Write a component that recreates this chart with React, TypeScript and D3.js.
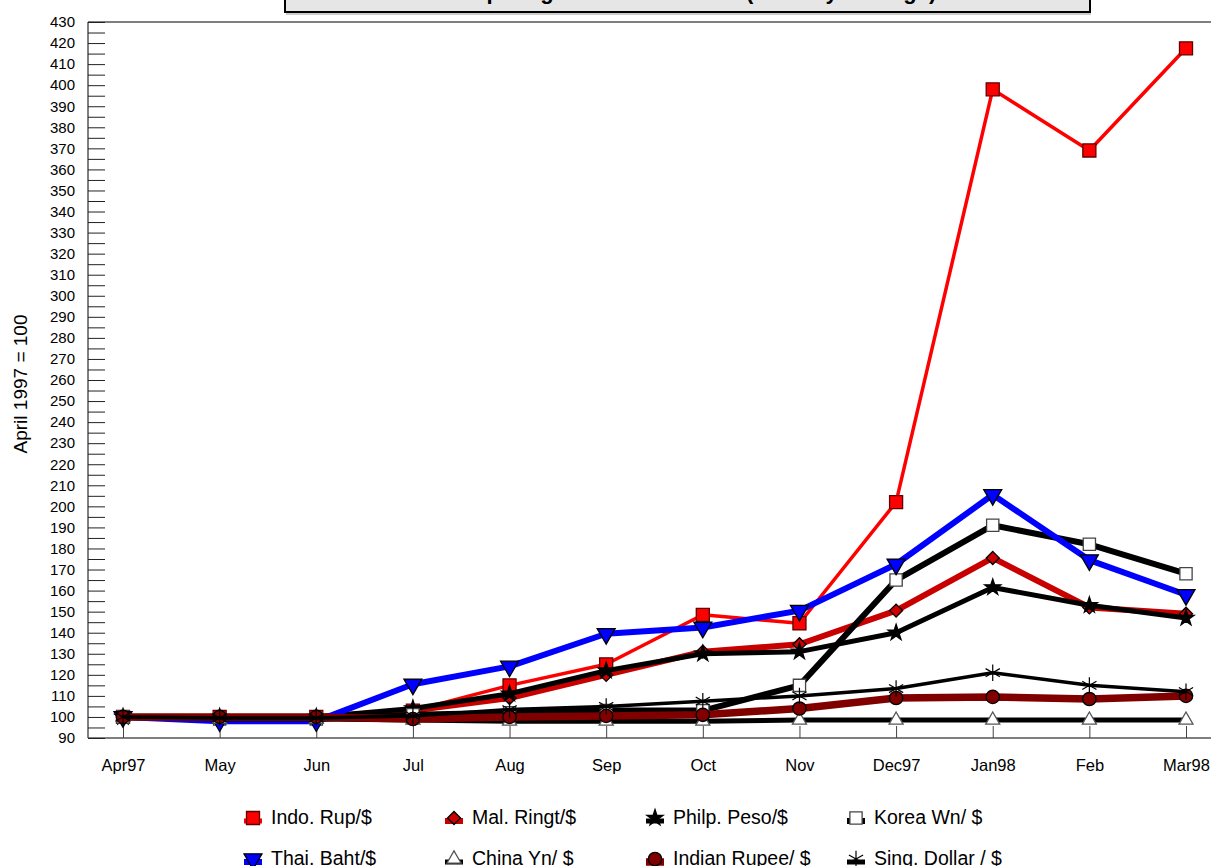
import React, { useRef, useEffect } from 'react'
import * as d3 from 'd3'

const months = ['Apr97', 'May', 'Jun', 'Jul', 'Aug', 'Sep', 'Oct', 'Nov', 'Dec97', 'Jan98', 'Feb', 'Mar98']

const indoRup = [100, 100, 100, 103, 115, 125, 148.5, 144.5, 202, 398, 369, 417.5]
const malRingt = [100, 100, 100, 103, 109, 120, 131, 134.5, 150.5, 175.5, 152, 149]
const philpPeso = [100, 100, 100, 104, 111, 122, 130, 131, 140, 161.5, 153, 147]
const koreaWn = [100, 99, 99, 101, 102, 103, 103, 115, 165, 191, 182, 168]
const thaiBaht = [100, 98, 98, 115.5, 124, 139.5, 142.5, 150.5, 172.5, 205.5, 174.5, 158]
const chinaYn = [100, 99, 99, 98.5, 98, 98, 98, 98.5, 98.5, 98.5, 98.5, 98.5]
const indianRupee = [100, 100, 100, 99, 100, 100.5, 101, 104, 109, 109.5, 108.5, 110]
const singDollar = [100, 99.5, 99.5, 100.5, 103.5, 105, 107.5, 110, 113.5, 121, 115, 112]

const yTicks = d3.range(90, 431, 10)
const yMinorTicks = d3.range(90, 431, 5)

type Series = {
  name: string
  values: number[]
  color: string
  width: number
  symbol: d3.SymbolType
  size: number
  fill: string
  stroke: string
  rotate?: number
}

const series: Series[] = [
  { name: 'Indo. Rup/$', values: indoRup, color: '#ff0000', width: 3.5, symbol: d3.symbolSquare, size: 170, fill: '#ff0000', stroke: '#600000' },
  { name: 'Mal. Ringt/$', values: malRingt, color: '#c80000', width: 6, symbol: d3.symbolSquare, size: 85, fill: '#cc0000', stroke: '#000', rotate: 45 },
  { name: 'Philp. Peso/$', values: philpPeso, color: '#000', width: 5, symbol: d3.symbolStar, size: 80, fill: '#000', stroke: '#000' },
  { name: 'Korea Wn/ $', values: koreaWn, color: '#000', width: 6, symbol: d3.symbolSquare, size: 150, fill: '#fff', stroke: '#444' },
  { name: 'Thai. Baht/$', values: thaiBaht, color: '#0000ff', width: 6, symbol: d3.symbolTriangle, size: 140, fill: '#0000ff', stroke: '#000', rotate: 180 },
  { name: 'China Yn/ $', values: chinaYn, color: '#000', width: 5, symbol: d3.symbolTriangle, size: 85, fill: '#fff', stroke: '#555' },
  { name: 'Indian Rupee/ $', values: indianRupee, color: '#800000', width: 7.5, symbol: d3.symbolCircle, size: 140, fill: '#800000', stroke: '#000' },
  { name: 'Sing. Dollar / $', values: singDollar, color: '#000', width: 3.5, symbol: d3.symbolAsterisk, size: 190, fill: 'none', stroke: '#000' },
]

export default function App() {
  const svgRef = useRef<SVGSVGElement>(null)

  useEffect(() => {
    if (!svgRef.current) return
    const svg = d3.select(svgRef.current)
    svg.selectAll('*').remove()

    const width = 1211
    const left = 88
    const top = 22
    const bottom = 738
    const font = '"Liberation Sans", Arial, sans-serif'

    const x = d3.scalePoint<string>().domain(months).range([123, 1186])
    const y = d3.scaleLinear().domain([90, 430]).range([bottom, top])

    // Title box, mostly above the page
    svg.append('rect')
      .attr('x', 285).attr('y', -40).attr('width', 805).attr('height', 52)
      .attr('fill', '#e6e6e6').attr('stroke', '#000').attr('stroke-width', 2)
    svg.append('line')
      .attr('x1', 286).attr('x2', 1091).attr('y1', 14).attr('y2', 14)
      .attr('stroke', '#999').attr('stroke-width', 1)
    svg.append('text')
      .attr('x', 687).attr('y', -1)
      .attr('text-anchor', 'middle')
      .attr('font-family', font).attr('font-weight', 'bold').attr('font-size', 22)
      .text('Comparing Asian Currencies (Monthly Average)')

    // Plot frame
    svg.append('line')
      .attr('x1', left).attr('x2', width).attr('y1', top).attr('y2', top)
      .attr('stroke', '#555').attr('stroke-width', 1.5)
    svg.append('line')
      .attr('x1', left).attr('x2', width).attr('y1', bottom).attr('y2', bottom)
      .attr('stroke', '#555').attr('stroke-width', 1.5)
    svg.append('line')
      .attr('x1', left).attr('x2', left).attr('y1', top).attr('y2', bottom)
      .attr('stroke', '#555').attr('stroke-width', 1.5)

    // Y axis
    const yMinor = svg.append('g').attr('transform', `translate(${left},0)`)
      .call(d3.axisLeft(y).tickValues(yMinorTicks).tickSize(-17).tickSizeOuter(0).tickFormat(() => ''))
    yMinor.select('.domain').remove()
    yMinor.selectAll('line').attr('stroke', '#222')

    const yAxis = svg.append('g').attr('transform', `translate(${left},0)`)
      .call(d3.axisLeft(y).tickValues(yTicks).tickSize(0).tickPadding(13).tickFormat(d3.format('d')))
    yAxis.select('.domain').remove()
    yAxis.selectAll('text').attr('font-family', font).attr('font-size', 15).attr('fill', '#000')

    // X axis
    const xAxis = svg.append('g').attr('transform', `translate(0,${bottom})`)
      .call(d3.axisBottom(x).tickSize(-12).tickSizeOuter(0).tickPadding(21))
    xAxis.select('.domain').remove()
    xAxis.selectAll('line').attr('stroke', '#444')
    xAxis.selectAll('text').attr('font-family', font).attr('font-size', 16.5).attr('fill', '#000')

    // Y axis title
    svg.append('text')
      .attr('transform', `translate(27,384) rotate(-90)`)
      .attr('text-anchor', 'middle')
      .attr('font-family', font).attr('font-size', 19)
      .text('April 1997 = 100')

    const line = d3.line<number>()
      .x((_, i) => x(months[i]) as number)
      .y(d => y(d))

    const drawMarker = (g: d3.Selection<any, any, any, any>, s: Series, cx: number, cy: number) => {
      g.append('path')
        .attr('d', d3.symbol().type(s.symbol).size(s.size)())
        .attr('transform', `translate(${cx},${cy})${s.rotate ? ` rotate(${s.rotate})` : ''}`)
        .attr('fill', s.fill)
        .attr('stroke', s.stroke)
        .attr('stroke-width', s.symbol === d3.symbolAsterisk ? 1.2 : 1.3)
    }

    const plot = svg.append('g')
    series.forEach(s => {
      plot.append('path')
        .datum(s.values)
        .attr('d', line)
        .attr('fill', 'none')
        .attr('stroke', s.color)
        .attr('stroke-width', s.width)
        .attr('stroke-linejoin', 'round')
      s.values.forEach((v, i) => drawMarker(plot, s, x(months[i]) as number, y(v)))
    })

    // Legend
    const legendX = [253, 454, 655, 856]
    const legendY = [818, 859]
    const legend = svg.append('g')
    series.forEach((s, i) => {
      const col = i % 4
      const row = Math.floor(i / 4)
      const lx = legendX[col]
      const ly = legendY[row]
      legend.append('line')
        .attr('x1', lx - 9).attr('x2', lx + 9)
        .attr('y1', ly + 3).attr('y2', ly + 3)
        .attr('stroke', s.color).attr('stroke-width', Math.max(s.width, 5))
      drawMarker(legend, s, lx, ly)
      legend.append('text')
        .attr('x', lx + 18).attr('y', ly + 6)
        .attr('font-family', font).attr('font-size', 19.5)
        .text(s.name)
    })
  }, [])

  return (
    <svg
      ref={svgRef}
      width={1211}
      height={866}
      style={{ position: 'absolute', left: 0, top: 0, background: '#fff' }}
    />
  )
}
